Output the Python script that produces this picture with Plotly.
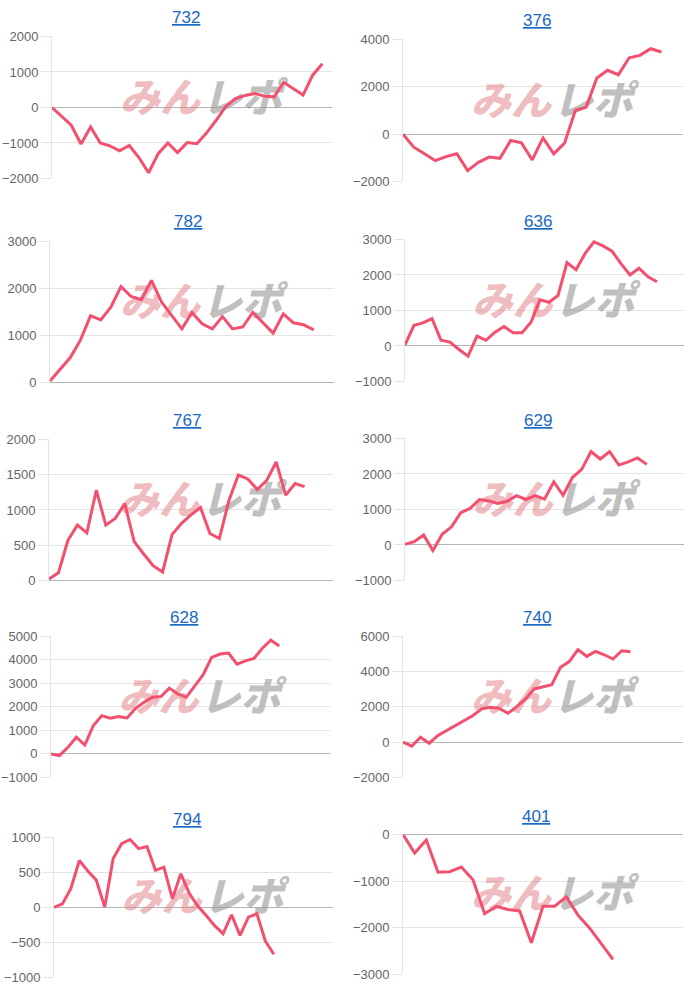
import plotly.graph_objects as go

# ---------------- data ----------------
titles = ["732", "376", "782", "636", "767", "629", "628", "740", "794", "401"]

s732 = [0, -250, -500, -1030, -550, -1000, -1080, -1220, -1070, -1410, -1840, -1300, -1000, -1270, -990,
        -1020, -720, -360, 30, 250, 340, 390, 320, 300, 710, 530, 350, 910, 1230]
s376 = [0, -550, -830, -1120, -950, -830, -1540, -1190, -970, -1020, -270, -370, -1090, -160, -830,
        -380, 1000, 1140, 2370, 2700, 2510, 3230, 3330, 3610, 3470]
s782 = [30, 280, 530, 900, 1420, 1330, 1600, 2040, 1830, 1760, 2170, 1710, 1430, 1140, 1490,
        1250, 1140, 1400, 1140, 1180, 1490, 1260, 1050, 1460, 1270, 1230, 1120]
s636 = [30, 580, 650, 770, 160, 110, -100, -290, 280, 160, 390, 550, 370, 370, 670,
        1300, 1230, 1420, 2350, 2150, 2600, 2930, 2820, 2670, 2320, 2000, 2190, 1950, 1810]
s767 = [20, 110, 570, 785, 675, 1280, 785, 880, 1090, 550, 375, 210, 120, 650, 810,
        930, 1035, 665, 595, 1130, 1495, 1440, 1290, 1420, 1680, 1210, 1375, 1330]
s629 = [20, 90, 280, -160, 300, 510, 910, 1030, 1280, 1240, 1170, 1230, 1390, 1280, 1390,
        1290, 1780, 1400, 1900, 2130, 2630, 2420, 2630, 2250, 2340, 2450, 2270]
s628 = [0, -70, 280, 710, 380, 1200, 1630, 1520, 1590, 1530, 1940, 2200, 2410, 2440, 2800,
        2550, 2410, 2880, 3370, 4110, 4250, 4290, 3820, 3960, 4060, 4500, 4840, 4590]
s740 = [0, -230, 280, -60, 380, 660, 940, 1230, 1510, 1890, 1980, 1920, 1640, 2020, 2450,
        3020, 3150, 3260, 4250, 4570, 5250, 4870, 5150, 4960, 4720, 5190, 5130]
s794 = [0, 50, 270, 670, 520, 390, 5, 700, 910, 970, 840, 870, 530, 575, 125,
        480, 200, 20, -115, -260, -375, -105, -400, -140, -90, -480, -670]
s401 = [0, -400, -120, -810, -800, -700, -970, -1700, -1540, -1610, -1640, -2320, -1540, -1540,
        -1340, -1730, -2010, -2340, -2680]

series = [s732, s376, s782, s636, s767, s629, s628, s740, s794, s401]

# number of x-axis category labels per chart (labels are hidden)
n_labels = [30, 27, 29, 32, 31, 31, 34, 33, 34, 25]

# y axis scales
y_min = [-2000, -2000, 0, -1000, 0, -1000, -1000, -2000, -1000, -3000]
y_max = [2000, 4000, 3000, 3000, 2000, 3000, 5000, 6000, 1000, 0]
y_step = [1000, 2000, 1000, 1000, 500, 1000, 1000, 2000, 500, 1000]

# ---------------- layout (pixel boxes) ----------------
W, H = 700, 993


def vy(y):
    # map a target on-screen y position to figure px (compensates page offset/scale)
    return (y - 6.5) / 0.985


# (left, right, top, bottom) of each plot area in px
boxes = [
    (52, 332, 36, 178), (403, 683, 39, 181),
    (50, 334, 241, 382), (405, 684, 239, 381),
    (49, 333, 439, 580), (405, 684, 438, 580),
    (51, 330, 636, 777), (403, 683, 636, 777),
    (54, 333, 837, 977), (403, 683, 834, 974),
]
title_pos = [(186, 17.5), (537, 20), (188, 221.5), (538, 221), (187, 420), (538, 420),
             (184, 617), (537, 617), (187, 819.5), (536, 816)]

LINE = "#f2506e"
GRID = "#e4e4e4"
ZERO = "#b5b5b5"
TICK = "#666666"
BLUE = "#1a68c4"
FONT = "Liberation Sans, Arial, Helvetica, sans-serif"
JP = "Noto Sans CJK JP"

fig = go.Figure()
annotations = []
layout = {}

for i in range(10):
    suf = "" if i == 0 else str(i + 1)
    l, r, t, b = boxes[i]
    t, b = vy(t), vy(b)
    n = n_labels[i]
    xs = list(range(len(series[i])))
    span = y_max[i] - y_min[i]
    pw, ph = r - l, b - t
    # watermark position (a bit right/up of the plot center)
    cx = (n - 1) / 2 + 9 / pw * (n - 1)
    cy = (y_min[i] + y_max[i]) / 2 + 6 / ph * span
    dx = 41 / pw * (n - 1)
    fig.add_trace(go.Scatter(
        x=[cx - dx], y=[cy], mode="text", text=["みん"],
        textfont=dict(family=JP, size=40, color="rgba(226,130,136,0.55)", weight=900, style="italic"),
        xaxis="x" + suf, yaxis="y" + suf, hoverinfo="skip", showlegend=False,
    ))
    fig.add_trace(go.Scatter(
        x=[cx + dx], y=[cy], mode="text", text=["レポ"],
        textfont=dict(family=JP, size=40, color="rgba(150,150,150,0.6)", weight=900, style="italic"),
        xaxis="x" + suf, yaxis="y" + suf, hoverinfo="skip", showlegend=False,
    ))
    fig.add_trace(go.Scatter(
        x=xs, y=series[i], mode="lines",
        line=dict(color=LINE, width=3),
        xaxis="x" + suf, yaxis="y" + suf, showlegend=False,
    ))
    layout["xaxis" + suf] = dict(
        domain=[l / W, r / W], range=[0, n - 1], anchor="y" + suf,
        showgrid=False, zeroline=False, showline=False, showticklabels=False, ticks="",
        fixedrange=True,
    )
    layout["yaxis" + suf] = dict(
        domain=[1 - b / H, 1 - t / H], range=[y_min[i], y_max[i]], anchor="x" + suf,
        tickmode="linear", tick0=y_min[i], dtick=y_step[i],
        showgrid=True, gridcolor=GRID, gridwidth=1,
        zeroline=True, zerolinecolor=ZERO, zerolinewidth=1,
        showline=True, linecolor=GRID, linewidth=1,
        ticks="outside", ticklen=10, tickcolor=GRID, tickwidth=1,
        tickfont=dict(family=FONT, size=13, color=TICK),
        fixedrange=True,
    )
    tx, ty = title_pos[i]
    annotations.append(dict(
        x=tx / W, y=1 - vy(ty) / H, xref="paper", yref="paper",
        text="<u>" + titles[i] + "</u>", showarrow=False,
        xanchor="center", yanchor="middle",
        font=dict(family=FONT, size=17, color=BLUE),
    ))

fig.update_layout(
    width=W, height=H, margin=dict(l=0, r=0, t=0, b=0),
    paper_bgcolor="white", plot_bgcolor="white",
    annotations=annotations, showlegend=False,
    **layout,
)

fig.write_html(
    "out.html",
    config={"displayModeBar": False},
    post_script="document.body.style.margin='0';document.body.style.overflow='hidden';",
)
